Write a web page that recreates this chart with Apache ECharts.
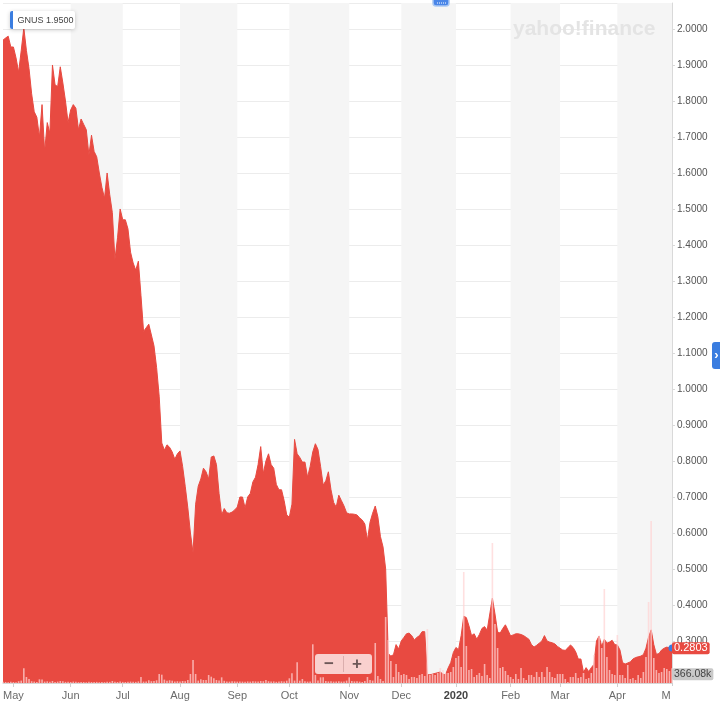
<!DOCTYPE html>
<html>
<head>
<meta charset="utf-8">
<script src="https://cdn.jsdelivr.net/npm/echarts@6/dist/echarts.min.js"></script>
<style>html,body{margin:0;padding:0;background:#fff}#c{width:720px;height:707px}</style>
</head>
<body>
<div id="c"></div>
<script>
// ---- data ----
const ticker = 'GNUS';
const headerPrice = '1.9500';
const startDate = '2019-04-25';
const endDate = '2020-05-01';
const marketHolidays = ['2019-05-27','2019-07-04','2019-09-02','2019-11-28','2019-12-25','2020-01-01','2020-01-20','2020-02-17','2020-04-10'];
const monthNames = ['Jan','Feb','Mar','Apr','May','Jun','Jul','Aug','Sep','Oct','Nov','Dec'];

// closing price per trading day
const prices = [
  1.969,1.975,1.98,1.95,1.95,1.92,1.88,1.94,2.003,1.94,
  1.89,1.82,1.77,1.755,1.70,1.79,1.66,1.74,1.71,1.90,
  1.845,1.84,1.895,1.85,1.80,1.74,1.775,1.79,1.78,1.72,
  1.75,1.735,1.72,1.65,1.705,1.66,1.645,1.60,1.56,1.53,
  1.60,1.54,1.49,1.36,1.42,1.50,1.47,1.47,1.445,1.38,
  1.35,1.33,1.355,1.26,1.16,1.17,1.18,1.15,1.12,1.06,
  0.98,0.85,0.83,0.845,0.838,0.825,0.805,0.82,0.828,0.785,
  0.73,0.67,0.60,0.545,0.68,0.73,0.75,0.78,0.77,0.75,
  0.811,0.814,0.79,0.71,0.65,0.668,0.656,0.655,0.658,0.664,
  0.672,0.70,0.70,0.67,0.70,0.71,0.742,0.755,0.79,0.84,
  0.765,0.80,0.82,0.79,0.78,0.735,0.72,0.72,0.69,0.65,
  0.644,0.68,0.86,0.82,0.81,0.797,0.797,0.755,0.785,0.825,
  0.848,0.832,0.785,0.733,0.745,0.77,0.72,0.685,0.672,0.705,
  0.69,0.675,0.656,0.653,0.653,0.652,0.65,0.642,0.636,0.625,
  0.58,0.63,0.655,0.675,0.645,0.59,0.561,0.50,0.265,0.258,
  0.262,0.29,0.278,0.30,0.31,0.32,0.322,0.315,0.303,0.31,
  0.315,0.326,0.326,0.207,0.206,0.208,0.21,0.212,0.214,0.208,
  0.206,0.225,0.24,0.268,0.282,0.276,0.315,0.369,0.365,0.342,
  0.315,0.32,0.305,0.318,0.335,0.34,0.33,0.375,0.419,0.375,
  0.325,0.322,0.335,0.345,0.33,0.314,0.317,0.32,0.32,0.318,
  0.315,0.31,0.305,0.29,0.283,0.288,0.294,0.30,0.315,0.30,
  0.297,0.295,0.292,0.285,0.28,0.275,0.274,0.281,0.289,0.282,
  0.27,0.25,0.25,0.213,0.226,0.215,0.226,0.235,0.30,0.314,
  0.285,0.305,0.294,0.297,0.302,0.29,0.289,0.275,0.24,0.236,
  0.239,0.242,0.25,0.254,0.256,0.258,0.262,0.28,0.311,0.331,
  0.29,0.263,0.265,0.275,0.28,0.283,0.281,0.2803
];

// volume per trading day, thousands of shares
const volumesK = [
  30,25,20,30,25,20,45,60,367,150,
  100,45,35,25,92,90,35,42,30,50,
  25,35,50,42,28,30,25,35,30,22,
  28,25,20,30,25,22,28,20,25,22,
  30,28,50,30,25,35,28,25,30,35,
  32,28,40,150,35,40,68,45,50,68,
  225,208,85,58,68,58,40,45,35,50,
  45,75,225,575,225,60,92,75,75,200,
  158,118,75,60,142,55,40,35,45,40,
  35,40,35,30,40,35,45,40,35,50,
  45,75,45,35,40,30,35,45,40,58,
  118,242,60,518,58,100,45,35,40,968,
  200,60,142,142,50,40,45,35,40,45,
  35,40,60,142,50,40,45,35,25,50,
  150,75,60,1000,175,100,50,1650,1075,550,
  150,475,275,200,225,200,100,150,150,125,
  200,225,175,1350,200,225,200,250,375,325,
  250,250,275,400,625,675,400,2775,925,325,
  350,150,200,250,175,475,200,125,3500,1475,
  875,375,400,300,200,150,100,225,100,375,
  125,75,200,200,150,275,150,275,150,400,
  275,150,125,225,225,225,100,25,150,150,
  250,125,150,250,100,125,250,700,375,1175,
  875,2350,650,325,225,200,1200,200,200,125,
  450,100,125,75,200,125,275,650,2025,4050,
  625,325,250,275,375,350,300,366.08
];

const priceAxisMin = 0.18333;
const priceAxisMax = 2.07222;
const volumeAxisMax = 17000;

// ---- trading calendar ----
const tradingDays = [];
for (let d = new Date(startDate + 'T00:00:00Z'); d <= new Date(endDate + 'T00:00:00Z'); d.setUTCDate(d.getUTCDate() + 1)) {
  const wd = d.getUTCDay();
  const s = d.toISOString().slice(0, 10);
  if (wd !== 0 && wd !== 6 && marketHolidays.indexOf(s) < 0) tradingDays.push(s);
}
const isMonthStart = (i) => i > 0 && tradingDays[i].slice(5, 7) !== tradingDays[i - 1].slice(5, 7);
const lastIdx = prices.length - 1;
const lastPrice = prices[lastIdx];
const lastVolume = volumesK[volumesK.length - 1];

const RED = '#e84a41';
const FONT = '"Liberation Sans", Arial, sans-serif';
const HIDDEN_LINE = {color: 'rgba(0,0,0,0)', width: 0, opacity: 1};

const chart = echarts.init(document.getElementById('c'), null, {renderer: 'canvas'});
chart.setOption({
  animation: false,
  backgroundColor: '#fff',
  textStyle: {fontFamily: FONT},
  grid: {left: 3, right: 48, top: 3, bottom: 24, containLabel: false, outerBoundsMode: 'none'},
  xAxis: {
    type: 'category',
    data: tradingDays,
    boundaryGap: false,
    axisLine: {show: true, lineStyle: {color: '#d6d6d6', width: 1}},
    axisTick: {show: true, interval: isMonthStart, length: 4, lineStyle: {color: '#cfcfcf'}},
    axisLabel: {
      interval: isMonthStart,
      margin: 7,
      color: '#6b6b6b',
      fontSize: 11,
      formatter: (v) => {
        const m = +v.slice(5, 7);
        return m === 1 ? '{y|' + v.slice(0, 4) + '}' : monthNames[m - 1];
      },
      rich: {y: {fontWeight: 'bold', color: '#444', fontSize: 11}}
    },
    splitLine: {show: false},
    splitArea: {show: true, interval: isMonthStart, areaStyle: {color: ['rgba(255,255,255,0)', '#f5f5f5']}}
  },
  yAxis: [
    {
      type: 'value',
      position: 'right',
      min: priceAxisMin,
      max: priceAxisMax,
      splitNumber: 19,
      axisLine: {show: true, lineStyle: {color: '#d9d9d9'}},
      axisTick: {show: true, length: 3, lineStyle: {color: '#d9d9d9'}},
      axisLabel: {
        show: true, margin: 5, color: '#555', fontSize: 10,
        showMinLabel: false, showMaxLabel: false,
        formatter: (v) => v.toFixed(4)
      },
      splitLine: {show: true, lineStyle: {color: '#ececec', width: 1}}
    },
    {
      type: 'value',
      min: 0,
      max: volumeAxisMax,
      show: false,
      splitLine: {show: false}
    }
  ],
  series: [
    {
      type: 'line',
      name: ticker,
      data: prices,
      yAxisIndex: 0,
      showSymbol: false,
      symbol: 'none',
      sampling: null,
      lineStyle: {color: RED, width: 1},
      areaStyle: {color: RED, opacity: 1, origin: 'start'},
      z: 2,
      markPoint: {
        silent: true,
        symbol: 'circle',
        symbolSize: 7,
        itemStyle: {color: '#3a7de0'},
        label: {show: false},
        data: [{coord: [tradingDays[lastIdx], lastPrice]}]
      },
      markLine: {
        silent: true,
        symbol: ['none', 'none'],
        lineStyle: HIDDEN_LINE,
        label: {
          show: true, position: 'end', distance: 0,
          formatter: lastPrice.toFixed(4),
          backgroundColor: RED, color: '#fff', fontSize: 11,
          padding: [1, 2, 0, 2], borderRadius: 2
        },
        data: [{yAxis: lastPrice}]
      }
    },
    {
      type: 'bar',
      name: 'Volume',
      data: volumesK,
      yAxisIndex: 1,
      barWidth: 1.6,
      itemStyle: {color: 'rgba(255,212,212,0.72)'},
      z: 3,
      markLine: {
        silent: true,
        symbol: ['none', 'none'],
        lineStyle: HIDDEN_LINE,
        label: {
          show: true, position: 'end', distance: 0, offset: [0, 6],
          formatter: lastVolume.toFixed(2) + 'k',
          backgroundColor: '#c9c9c9', color: '#444', fontSize: 10.5,
          padding: [1, 2, 0, 2], borderRadius: 2
        },
        data: [{yAxis: lastVolume}]
      }
    }
  ],
  graphic: [
    // watermark
    {type: 'text', x: 513, y: 29, z: 1, silent: true,
      style: {text: 'yahoo!finance', font: 'bold 21px ' + FONT, fill: '#e4e4e4', verticalAlign: 'middle'}},
    // header tag
    {type: 'rect', z: 20, shape: {x: 10, y: 11, width: 65, height: 18, r: 2},
      style: {fill: '#fff', shadowBlur: 4, shadowColor: 'rgba(0,0,0,0.2)', shadowOffsetY: 1}},
    {type: 'rect', z: 21, shape: {x: 10, y: 11, width: 3, height: 18, r: [2, 0, 0, 2]}, style: {fill: '#3a7de0'}},
    {type: 'text', z: 21, x: 17.5, y: 20.5,
      style: {text: ticker + ' ' + headerPrice, font: '9px ' + FONT, fill: '#444', verticalAlign: 'middle'}},
    // top handle
    {type: 'rect', z: 20, shape: {x: 433, y: -5, width: 16, height: 11, r: 3},
      style: {fill: '#4a86e8', stroke: '#a9c8f4', lineWidth: 1.5}},
    {type: 'line', z: 21, shape: {x1: 437, y1: 3, x2: 446, y2: 3}, style: {stroke: '#ffffff', lineWidth: 1, lineDash: [1, 1]}},
    // right tab
    {type: 'rect', z: 20, shape: {x: 712, y: 342, width: 14, height: 27, r: 3}, style: {fill: '#3a7de0'}},
    {type: 'text', z: 21, x: 716.5, y: 355, style: {text: '›', font: 'bold 13px ' + FONT, fill: '#fff', align: 'center', verticalAlign: 'middle'}},
    // zoom control
    {type: 'rect', z: 20, shape: {x: 315, y: 654, width: 57, height: 20, r: 3}, style: {fill: 'rgba(255,255,255,0.74)'}},
    {type: 'line', z: 21, shape: {x1: 343.5, y1: 656, x2: 343.5, y2: 672}, style: {stroke: 'rgba(190,140,140,0.5)', lineWidth: 1}},
    {type: 'text', z: 21, x: 329, y: 664, style: {text: '−', font: 'bold 17px ' + FONT, fill: '#6e5858', align: 'center', verticalAlign: 'middle'}},
    {type: 'text', z: 21, x: 357, y: 664, style: {text: '+', font: 'bold 17px ' + FONT, fill: '#6e5858', align: 'center', verticalAlign: 'middle'}},
    // clip the last month label at the axis edge
    {type: 'rect', z: 30, shape: {x: 671, y: 686, width: 49, height: 21}, style: {fill: '#fff'}}
  ]
});
</script>
</body>
</html>
